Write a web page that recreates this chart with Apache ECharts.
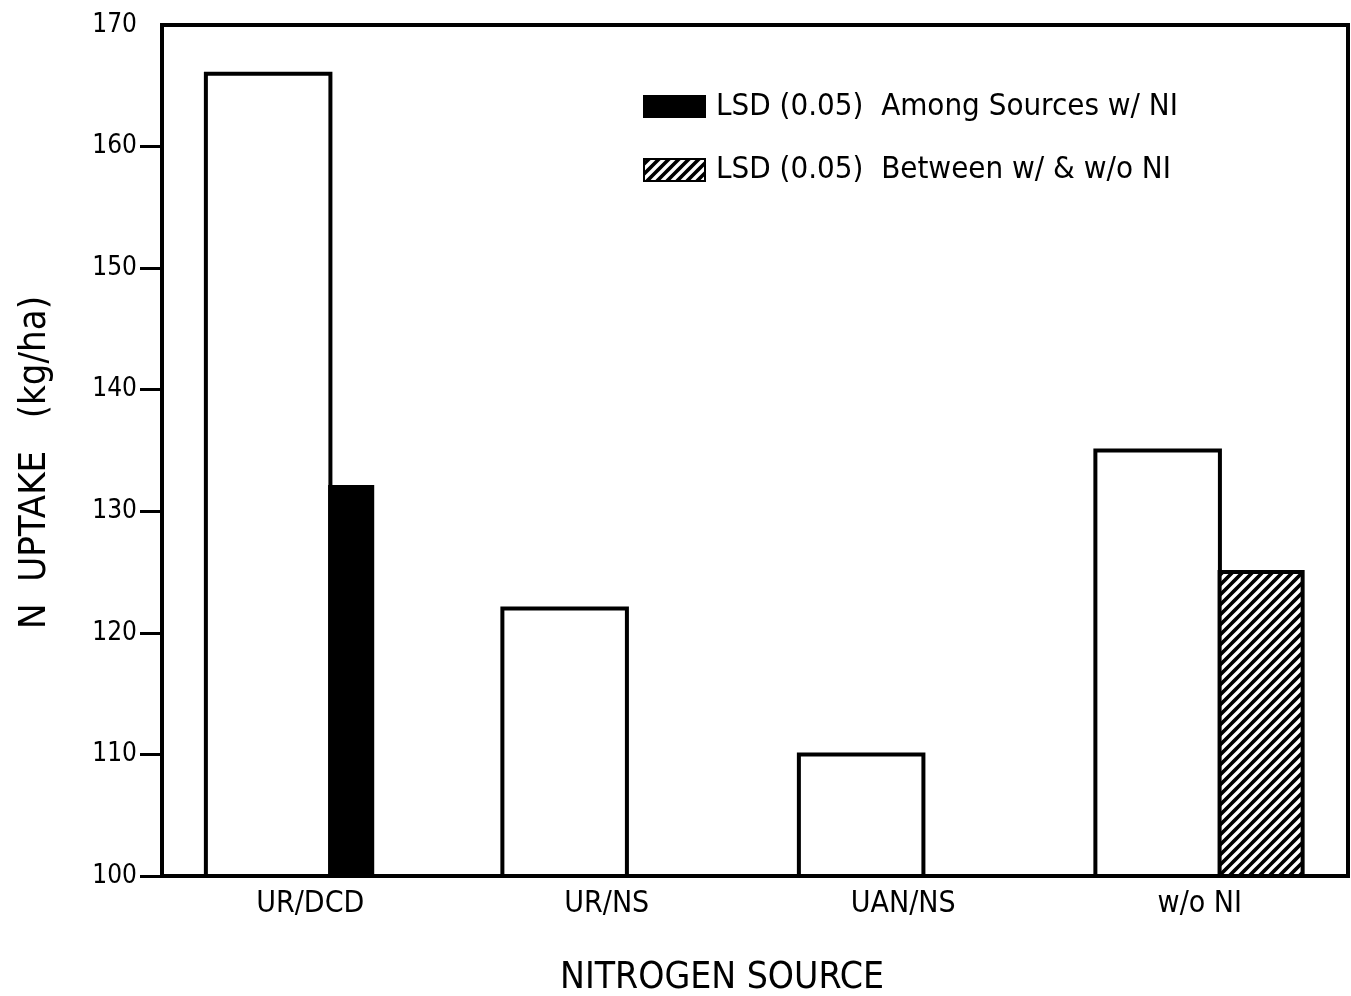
<!DOCTYPE html>
<html>
<head>
<meta charset="utf-8">
<script src="https://cdn.jsdelivr.net/npm/echarts@6/dist/echarts.min.js"></script>
<style>
html,body{margin:0;padding:0;background:#fff;}
#chart{width:1351px;height:996px;}
</style>
</head>
<body>
<div id="chart"></div>
<script>
// ---- data ----
const categories = ['UR/DCD', 'UR/NS', 'UAN/NS', 'w/o NI'];
const nUptake = [166, 122, 110, 135];
const lsdAmongSources = [132, null, null, null];
const lsdBetween = [null, null, null, 125];
const yTicks = [100, 110, 120, 130, 140, 150, 160, 170];
const legendLabels = ['LSD (0.05)  Among Sources w/ NI', 'LSD (0.05)  Between w/ & w/o NI'];

const FONT = "'DejaVu Sans Condensed', 'Liberation Sans Narrow', sans-serif";

// hatch pattern
function makeHatch() {
  const c = document.createElement('canvas');
  c.width = 10; c.height = 10;
  const g = c.getContext('2d');
  g.fillStyle = '#000'; g.fillRect(0, 0, 10, 10);
  g.strokeStyle = '#fff'; g.lineWidth = 3.4;
  g.beginPath();
  g.moveTo(-5, 5); g.lineTo(5, -5);
  g.moveTo(0, 10); g.lineTo(10, 0);
  g.moveTo(5, 15); g.lineTo(15, 5);
  g.stroke();
  return c;
}
const hatch = { image: makeHatch(), repeat: 'repeat' };

function barRenderer(offset, widthFrac, fill) {
  return function (params, api) {
    const i = api.value(0), v = api.value(1);
    const top = api.coord([i, v]);
    const bot = api.coord([i, yTicks[0]]);
    const bw = api.size([1, 0])[0];
    const start = top[0] - bw / 2;
    return {
      type: 'rect',
      shape: { x: start + offset * bw, y: top[1], width: widthFrac * bw, height: bot[1] - top[1] },
      style: { fill: fill, stroke: '#000', lineWidth: 4 }
    };
  };
}

const toPts = arr => arr.map((v, i) => v == null ? null : [i, v]).filter(d => d);

const chart = echarts.init(document.getElementById('chart'), null, { renderer: 'canvas' });
chart.setOption({
  backgroundColor: '#fff',
  animation: false,
  grid: { left: 162, right: 3, top: 25, bottom: 120, show: true, borderColor: '#000', borderWidth: 4, backgroundColor: 'transparent', outerBoundsMode: 'none', containLabel: false },
  xAxis: {
    type: 'category',
    data: categories,
    axisLine: { show: true, lineStyle: { color: '#000', width: 4 } },
    axisTick: { show: false },
    axisLabel: { color: '#000', fontFamily: FONT, fontSize: 30, margin: 13 },
    name: 'NITROGEN SOURCE',
    nameLocation: 'middle',
    nameGap: 84,
    nameTextStyle: { color: '#000', fontFamily: FONT, fontSize: 37, padding: [0, 66, 0, 0] },
    splitLine: { show: false }
  },
  yAxis: {
    type: 'value',
    min: 100, max: 170, interval: 10,
    axisLine: { show: true, lineStyle: { color: '#000', width: 4 } },
    axisTick: { show: true, inside: false, length: 22, lineStyle: { color: '#000', width: 3 }, customValues: yTicks.slice(0, -1) },
    axisLabel: { color: '#000', fontFamily: FONT, fontSize: 26, margin: 25, customValues: yTicks },
    splitLine: { show: false },
    name: 'N  UPTAKE   (kg/ha)',
    nameLocation: 'middle',
    nameRotate: 90,
    nameGap: 108,
    nameTextStyle: { color: '#000', fontFamily: FONT, fontSize: 38, padding: [0, 24, 0, 0] }
  },
  series: [
    { name: 'N uptake', type: 'custom', renderItem: barRenderer(0.148, 0.42, '#fff'), encode: { x: 0, y: 1 }, data: toPts(nUptake), z: 2 },
    { name: 'LSD among sources', type: 'custom', renderItem: barRenderer(0.567, 0.142, '#000'), encode: { x: 0, y: 1 }, data: toPts(lsdAmongSources), z: 3 },
    { name: 'LSD between', type: 'custom', renderItem: barRenderer(0.567, 0.28, hatch), encode: { x: 0, y: 1 }, data: toPts(lsdBetween), z: 3 }
  ],
  graphic: [
    { type: 'rect', left: 643, top: 95, shape: { width: 63, height: 23 }, style: { fill: '#000' } },
    { type: 'text', left: 716, top: 91, style: { text: legendLabels[0], fill: '#000', font: "31px " + FONT } },
    { type: 'rect', left: 643, top: 158, shape: { width: 61, height: 22 }, style: { fill: hatch, stroke: '#000', lineWidth: 2 } },
    { type: 'text', left: 716, top: 154, style: { text: legendLabels[1], fill: '#000', font: "31px " + FONT } }
  ]
});
</script>
</body>
</html>
